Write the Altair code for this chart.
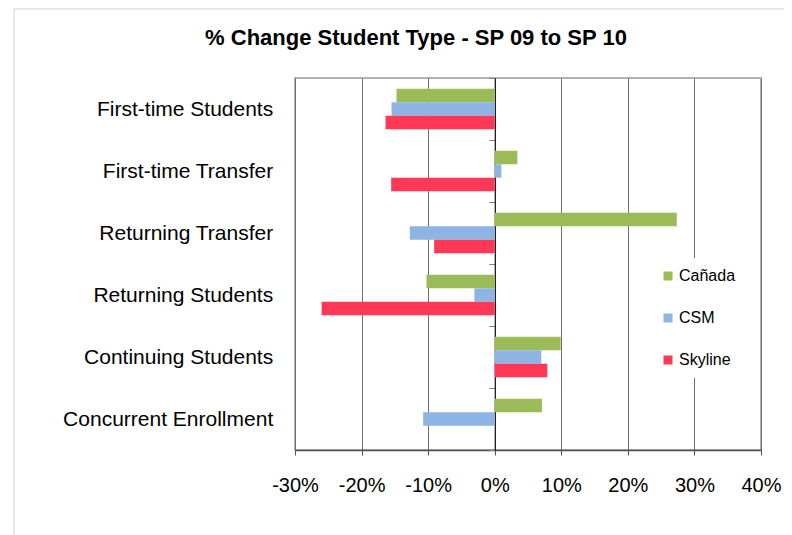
import altair as alt
import pandas as pd

categories = [
    "First-time Students",
    "First-time Transfer",
    "Returning Transfer",
    "Returning Students",
    "Continuing Students",
    "Concurrent Enrollment",
]
series = ["Cañada", "CSM", "Skyline"]
canada = [-0.1475, 0.034, 0.2735, -0.1025, 0.099, 0.071]
csm = [-0.155, 0.010, -0.1275, -0.0305, 0.070, -0.1075]
skyline = [-0.164, -0.1555, -0.091, -0.260, 0.079, 0.0]
colors = ["#9BBB59", "#8EB4E3", "#FF3855"]
x_ticks = [-0.3, -0.2, -0.1, 0.0, 0.1, 0.2, 0.3, 0.4]

rows = []
for name, vals in zip(series, [canada, csm, skyline]):
    for c, v in zip(categories, vals):
        rows.append({"category": c, "college": name, "change": v})
df = pd.DataFrame(rows)

FONT = "Liberation Sans"
W, H = 466, 372
zero_px = 0.3 / 0.7 * W

bars = alt.Chart(df).mark_bar().encode(
    x=alt.X(
        "change:Q",
        stack=None,
        scale=alt.Scale(domain=[-0.3, 0.4], nice=False, zero=False),
        axis=alt.Axis(
            values=x_ticks, title=None, grid=True,
            labelExpr="(datum.value < 0 ? '-' : '') + format(abs(datum.value), '.0%')",
            labelOverlap=False, labelFlush=False,
            gridColor="#707070", gridWidth=1,
            domainColor="#505050", domainWidth=1.5,
            tickColor="#505050", tickSize=5,
            labelFontSize=20, labelFont=FONT, labelColor="black",
            labelPadding=20,
        ),
    ),
    y=alt.Y(
        "category:N",
        sort=categories,
        scale=alt.Scale(paddingInner=0, paddingOuter=0),
        axis=alt.Axis(
            title=None, orient="left", offset=-zero_px,
            domainColor="black", domainWidth=1,
            ticks=True, tickBand="extent", tickSize=6, tickColor="#808080",
            labelPadding=216, labelFontSize=21, labelFont=FONT,
            labelColor="black", labelLimit=0, grid=False,
        ),
    ),
    yOffset=alt.YOffset(
        "college:N", sort=series,
        scale=alt.Scale(paddingInner=0, paddingOuter=0.81),
    ),
    color=alt.Color(
        "college:N",
        sort=series,
        scale=alt.Scale(domain=series, range=colors),
        legend=alt.Legend(
            title=None, orient="none", legendX=355, legendY=180,
            fillColor="white", padding=10,
            symbolType="square", symbolSize=81, symbolStrokeWidth=0,
            labelFontSize=16, labelFont=FONT, labelColor="black",
            labelOffset=3, rowPadding=26,
        ),
    ),
)

frame = alt.Chart(pd.DataFrame({"k": [0]})).mark_rect(
    fillOpacity=0, stroke="#cfcfcf", strokeWidth=1
).encode(
    x=alt.value(-281), x2=alt.value(700),
    y=alt.value(-69), y2=alt.value(700),
)

chart = alt.layer(frame, bars).properties(
    width=W,
    height=H,
    title=alt.Title(
        "% Change Student Type - SP 09 to SP 10",
        fontSize=22, fontWeight="bold", font=FONT, color="black",
        anchor="middle", dx=-112, offset=-58, baseline="alphabetic",
    ),
    autosize=alt.AutoSizeParams(type="none"),
    padding={"left": 287, "top": 70, "right": 23, "bottom": 85},
).configure_view(
    stroke="#999999", strokeWidth=1.5
)

chart.save("out.html", embed_options={"renderer": "svg", "actions": False})
